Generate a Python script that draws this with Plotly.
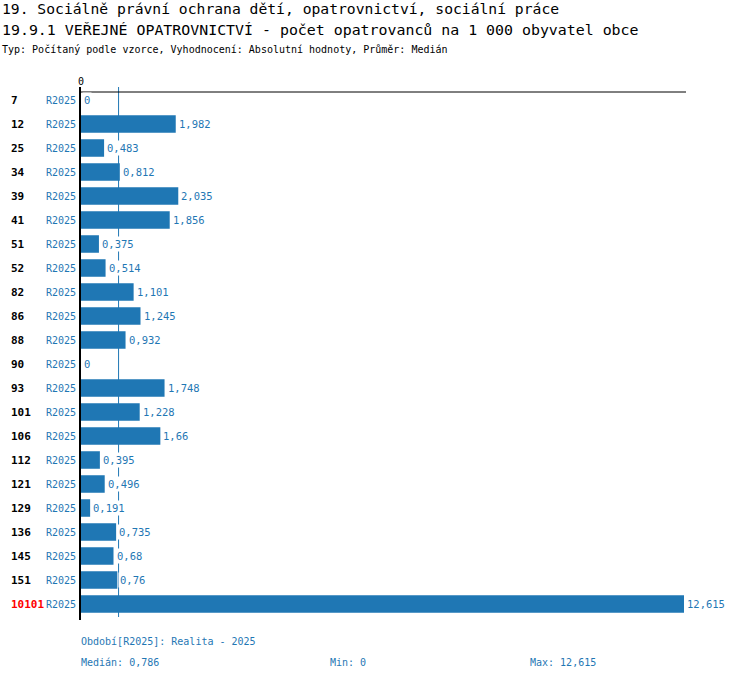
import plotly.graph_objects as go

categories = ["7", "12", "25", "34", "39", "41", "51", "52", "82", "86", "88", "90",
              "93", "101", "106", "112", "121", "129", "136", "145", "151", "10101"]
series_label = "R2025"
values = [0, 1.982, 0.483, 0.812, 2.035, 1.856, 0.375, 0.514, 1.101, 1.245, 0.932, 0,
          1.748, 1.228, 1.66, 0.395, 0.496, 0.191, 0.735, 0.68, 0.76, 12.615]
median_value = 0.786
min_value = 0
max_value = 12.615
highlight = "10101"

title1 = "19. Sociálně právní ochrana dětí, opatrovnictví, sociální práce"
title2 = "19.9.1 VEŘEJNÉ OPATROVNICTVÍ - počet opatrovanců na 1 000 obyvatel obce"
title3 = "Typ: Počítaný podle vzorce, Vyhodnocení: Absolutní hodnoty, Průměr: Medián"
footer1 = "Období[R2025]: Realita - 2025"


def fmt(v):
    return f"{v:g}".replace(".", ",")


W, H = 750, 680
ML, MR, MT, MB = 81, 64, 88, 64
PW, PH = W - ML - MR, H - MT - MB


def px(x):
    return (x - ML) / PW


def py(y):
    return (H - MB - y) / PH


BLUE = "#1f77b4"
FONT = "DejaVu Sans Mono"
ypos = list(range(len(categories)))

fig = go.Figure()
fig.add_trace(go.Bar(
    x=values, y=ypos, orientation="h",
    marker=dict(color=BLUE, line=dict(width=0)),
    hoverinfo="skip",
))

ann = []
for i, c in enumerate(categories):
    ann.append(dict(x=px(9), xref="paper", y=i, yref="y", text=f"<b>{c}</b>",
                    showarrow=False, xanchor="left", yanchor="middle",
                    font=dict(family=FONT, size=11, color="red" if c == highlight else "black")))
    ann.append(dict(x=px(78), xref="paper", y=i, yref="y", text=series_label,
                    showarrow=False, xanchor="right", yanchor="middle",
                    font=dict(family=FONT, size=10, color=BLUE)))
    ann.append(dict(x=values[i], xref="x", y=i, yref="y", text=fmt(values[i]),
                    showarrow=False, xanchor="left", yanchor="middle", xshift=1,
                    bgcolor="white", borderpad=1,
                    font=dict(family=FONT, size=10.5, color=BLUE)))

ann.append(dict(x=0, xref="x", y=py(81), yref="paper", text="0", showarrow=False,
                xanchor="center", yanchor="middle", font=dict(family=FONT, size=10, color="black")))
for t, yy, sz in [(title1, 9, 14.7), (title2, 30, 14.9), (title3, 50, 10)]:
    ann.append(dict(x=px(0), xref="paper", y=py(yy), yref="paper", text=t, showarrow=False,
                    xanchor="left", yanchor="middle", font=dict(family=FONT, size=sz, color="black")))
for t, xx, yy in [(footer1, 79, 641), ("Medián: " + fmt(median_value), 79, 662),
                  ("Min: " + fmt(min_value), 328, 662), ("Max: " + fmt(max_value), 528, 662)]:
    ann.append(dict(x=px(xx), xref="paper", y=py(yy), yref="paper", text=t, showarrow=False,
                    xanchor="left", yanchor="middle", font=dict(family=FONT, size=10, color=BLUE)))

shapes = [
    dict(type="line", xref="x", yref="paper", x0=median_value, x1=median_value,
         y0=py(617), y1=py(87), line=dict(color=BLUE, width=1), layer="below"),
    dict(type="line", xref="paper", yref="paper", x0=px(80), x1=px(686),
         y0=py(92), y1=py(92), line=dict(color="black", width=1)),
    dict(type="line", xref="paper", yref="paper", x0=px(80), x1=px(80),
         y0=py(620), y1=py(87), line=dict(color="black", width=2)),
]

fig.update_layout(
    width=W, height=H, margin=dict(l=ML, r=MR, t=MT, b=MB, autoexpand=False),
    paper_bgcolor="white", plot_bgcolor="white", showlegend=False,
    bargap=0.27,
    xaxis=dict(range=[0, max_value * PW / 603], visible=False, fixedrange=True),
    yaxis=dict(range=[len(categories) - 0.5, -0.5], visible=False, fixedrange=True),
    annotations=ann, shapes=shapes,
)
fig.write_html("out.html", config={"displayModeBar": False},
               post_script="document.body.style.margin='0';document.body.style.overflow='hidden';")
